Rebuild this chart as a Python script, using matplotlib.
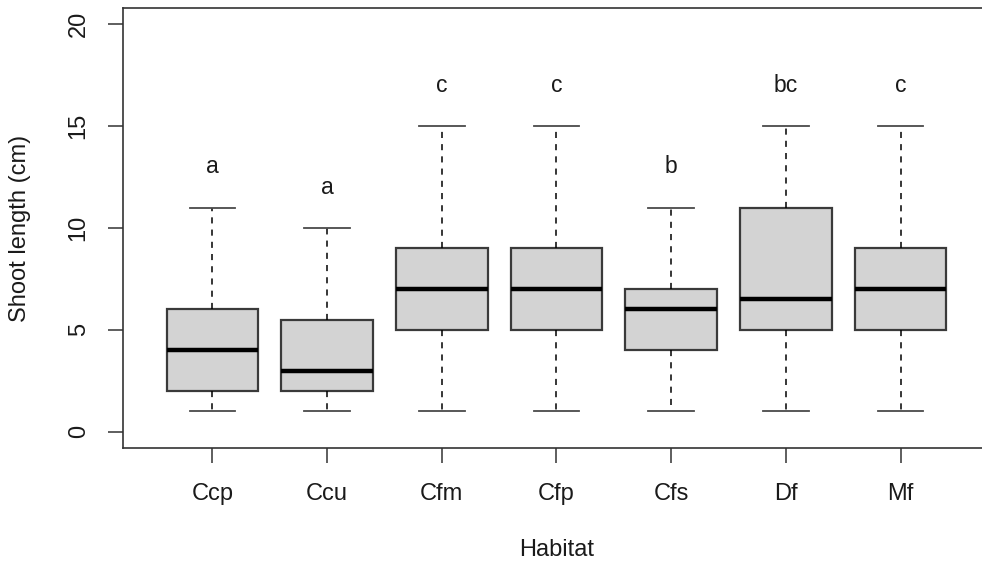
import matplotlib
matplotlib.use("Agg")
import matplotlib.pyplot as plt

plt.rcParams["font.family"] = ["Liberation Sans", "DejaVu Sans"]

# Habitat groups and their five-number summaries (cm)
habitats = ["Ccp", "Ccu", "Cfm", "Cfp", "Cfs", "Df", "Mf"]
whisker_low = [1, 1, 1, 1, 1, 1, 1]
q1 = [2, 2, 5, 5, 4, 5, 5]
median = [4, 3, 7, 7, 6, 6.5, 7]
q3 = [6, 5.5, 9, 9, 7, 11, 9]
whisker_high = [11, 10, 15, 15, 11, 15, 15]
# Significance group letters
letters = ["a", "a", "c", "c", "b", "bc", "c"]

W, H = 982, 565
fig = plt.figure(figsize=(W / 100, H / 100), dpi=100)
left, right, top, bottom = 123, 990, 8, 448
ax = fig.add_axes([left / W, 1 - bottom / H, (right - left) / W, (bottom - top) / H])

stats = []
for name, lo, a, m, b, hi in zip(habitats, whisker_low, q1, median, q3, whisker_high):
    stats.append(dict(label=name, whislo=lo, q1=a, med=m, q3=b, whishi=hi, fliers=[]))

positions = list(range(1, len(habitats) + 1))
edge = "#3a3a3a"
ax.bxp(
    stats,
    positions=positions,
    widths=0.8,
    capwidths=0.4,
    patch_artist=True,
    showfliers=False,
    boxprops=dict(facecolor="#d3d3d3", edgecolor=edge, linewidth=1.6),
    medianprops=dict(color="black", linewidth=3.2, solid_capstyle="butt"),
    whiskerprops=dict(color="black", linewidth=1.1, linestyle=(0, (4, 4))),
    capprops=dict(color="#4a4a4a", linewidth=1.3),
)

for x, hi, lab in zip(positions, whisker_high, letters):
    ax.text(x, hi + 2, lab, ha="center", va="center", fontsize=16.5, color="#1a1a1a")

ax.set_xlim(0.22, 7.78)
ax.set_ylim(-0.8, 20.8)
ax.set_yticks([0, 5, 10, 15, 20])
ax.set_xticks(positions)
ax.set_xticklabels(habitats)

for s in ax.spines.values():
    s.set_color("#333333")
    s.set_linewidth(1.2)

ax.tick_params(axis="both", length=11, width=1.1, color="#333333", labelsize=17, labelcolor="#1a1a1a")
ax.tick_params(axis="x", pad=14)
ax.tick_params(axis="y", pad=13)
for t in ax.get_yticklabels():
    t.set_rotation(90)
    t.set_va("center")

fig.text(20 / W, 1 - 228 / H, "Shoot length (cm)", rotation=90, ha="center", va="center",
         fontsize=17, color="#1a1a1a")
fig.text(557 / W, 1 - 550 / H, "Habitat", ha="center", va="center", fontsize=17, color="#1a1a1a")

fig.savefig("out.png", dpi=100)
